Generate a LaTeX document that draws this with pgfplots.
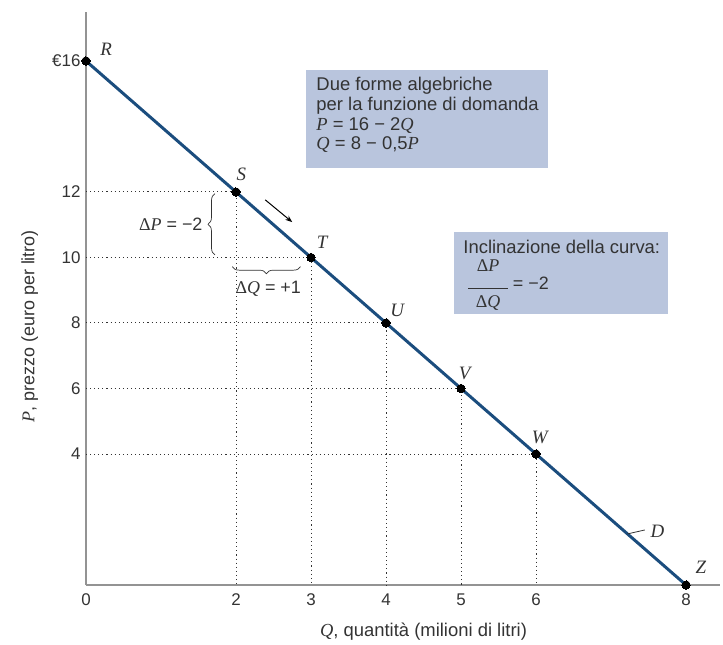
\documentclass[border=0pt]{standalone}
\usepackage{fontspec}
\setmainfont{Liberation Sans}
\newfontfamily\tms{Liberation Serif}
\usepackage{pgfplots}
\pgfplotsset{compat=1.18}
\usetikzlibrary{decorations.pathreplacing,arrows.meta}
\definecolor{curve}{HTML}{1B4D7E}
\definecolor{boxfill}{HTML}{B9C5DD}
\definecolor{txt}{HTML}{333333}
\newcommand{\vP}{{\tms\itshape P}}
\newcommand{\vQ}{{\tms\itshape Q}}
\newcommand{\dlt}{{\tms Δ}}

% demand curve points (Q, P)
\pgfplotstableread{
Q P
0 16
2 12
3 10
4 8
5 6
6 4
8 0
}\demand

\begin{document}
\begin{tikzpicture}[font=\fontsize{18}{21}\selectfont, text=txt]
\begin{axis}[
  x=75bp, y=32.75bp,
  xmin=0, xmax=8.45, ymin=0, ymax=17.5,
  axis lines=left,
  axis line style={-, draw=gray!85, line width=1.5pt},
  xtick={0,2,3,4,5,6,8},
  xticklabels={0,2,3,4,5,6,8},
  ytick={4,6,8,10,12,16},
  yticklabels={4,6,8,10,12,€16},
  major tick length=0pt,
  tick label style={text=txt, font=\fontsize{17}{20}\selectfont},
  xticklabel style={yshift=-5bp},
  yticklabel style={xshift=-2bp},
  clip=false,
  guide/.style={txt, line width=1pt, dash pattern=on 1.1bp off 3bp},
]
\coordinate (O) at (axis cs:0,0);

% guide lines to the axes
\addplot[guide] coordinates {(0,12) (2,12) (2,0)};
\addplot[guide] coordinates {(0,10) (3,10) (3,0)};
\addplot[guide] coordinates {(0,8) (4,8) (4,0)};
\addplot[guide] coordinates {(0,6) (5,6) (5,0)};
\addplot[guide] coordinates {(0,4) (6,4) (6,0)};

% demand curve
\addplot[curve, line width=3pt, mark=*, mark size=4.2pt,
  mark options={fill=black, draw=black, line width=0pt}] table[x=Q, y=P] {\demand};

% point labels
\begin{scope}[every node/.style={font=\tms\itshape\fontsize{19}{21}\selectfont, text=txt}]
\node at (axis cs:0.27,16.35) {R};
\node at (axis cs:2.07,12.55) {S};
\node at (axis cs:3.15,10.45) {T};
\node at (axis cs:4.15,8.4) {U};
\node at (axis cs:5.05,6.45) {V};
\node at (axis cs:6.05,4.5) {W};
\node at (axis cs:8.2,0.55) {Z};
\node at (axis cs:7.62,1.65) {D};
\end{scope}
\draw[txt, line width=0.8pt] (axis cs:7.22,1.56) -- (axis cs:7.45,1.68);

% direction of movement along the curve
\draw[-{Stealth[length=7bp]}, black, line width=1pt] (axis cs:2.39,11.76) -- (axis cs:2.75,11.08);

% braces for the changes
\draw[txt, line width=0.7pt, decorate, decoration={brace, amplitude=7bp}]
  (axis cs:1.72,10.08) -- (axis cs:1.72,11.95);
\node[anchor=east] at (axis cs:1.6,11.02) {\dlt\vP\ = −2};
\draw[txt, line width=0.7pt, decorate, decoration={brace, amplitude=7bp}]
  (axis cs:2.86,9.72) -- (axis cs:1.95,9.72);
\node at (axis cs:2.43,9.05) {\dlt\vQ\ = +1};

% info boxes
\fill[boxfill] (axis cs:2.93,12.73) rectangle (axis cs:6.16,15.73);
\node[anchor=north west, align=left, inner sep=0pt,
  font=\fontsize{18.5}{19.7}\selectfont] at (axis cs:3.07,15.5)
  {Due forme algebriche\\per la funzione di domanda\\
   \vP\ = 16 − 2\vQ\\\vQ\ = 8 − 0,5\vP};
\fill[boxfill] (axis cs:4.91,8.27) rectangle (axis cs:7.76,10.78);
\node[anchor=west, inner sep=0pt, font=\fontsize{18.5}{21}\selectfont]
  at (axis cs:5.03,10.33) {Inclinazione della curva:};
\node[inner sep=0pt] at (axis cs:5.36,9.15)
  {\begin{tabular}{@{}c@{}}\dlt\vP\\[-4bp]\rule{40bp}{0.7pt}\\[-2bp]\dlt\vQ\end{tabular}};
\node[anchor=west, inner sep=0pt] at (axis cs:5.69,9.2) {= −2};

% axis titles
\node[rotate=90] at (axis cs:-0.75,7.9) {\vP, prezzo (euro per litro)};
\node[font=\fontsize{18.5}{21}\selectfont] at (axis cs:4.5,-1.43) {\vQ, quantità (milioni di litri)};
\end{axis}
\pgfresetboundingbox
\path (O) ++(-86bp,-60bp) rectangle ++(723bp,645bp);
\end{tikzpicture}
\end{document}
